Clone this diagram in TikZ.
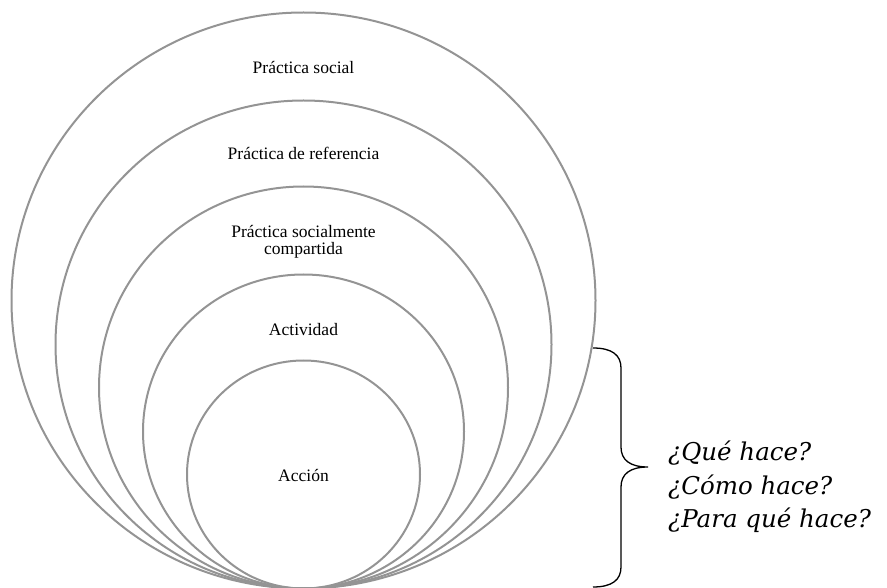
\documentclass[tikz,border=0pt]{standalone}
\usepackage{fontspec}
\setmainfont{Liberation Serif}
\newfontfamily\qfont{DejaVu Serif}
\begin{document}
\begin{tikzpicture}[x=1pt,y=-1pt,
  ring/.style={draw=black!42, line width=2pt},
  lbl/.style={anchor=base, font=\fontsize{17.5}{17}\selectfont, inner sep=0pt, align=center},
  qtext/.style={anchor=base west, font=\qfont\itshape\fontsize{24.5}{33.5}\selectfont, inner sep=0pt, align=left},
  bracestyle/.style={draw=black, line width=1.3pt}]
\useasboundingbox (0,0) rectangle (887,588);
\draw[ring] (303.5,300.5) ellipse [x radius=292pt, y radius=288pt];
\draw[ring] (303.5,344.5) ellipse [x radius=248pt, y radius=244pt];
\draw[ring] (303.5,387.5) ellipse [x radius=204.5pt, y radius=201pt];
\draw[ring] (303.5,431.5) ellipse [x radius=160.5pt, y radius=157pt];
\draw[ring] (303.5,474.5) ellipse [x radius=116.5pt, y radius=114pt];
\node[lbl] (ps) at (303.5,74) {Práctica social};
\node[lbl] (pr) at (303.5,160) {Práctica de referencia};
\node[lbl] (psc1) at (303.5,238) {Práctica socialmente};
\node[lbl] (psc2) at (303.5,255) {compartida};
\node[lbl] (act) at (303.5,335) {Actividad};
\node[lbl] (acc) at (303.5,481) {Acción};
\node[qtext] (q1) at (668,460) {¿Qué hace?};
\node[qtext] (q2) at (668,494) {¿Cómo hace?};
\node[qtext] (q3) at (668,527) {¿Para qué hace?};
\coordinate (btop) at (593,348);
\coordinate (btip) at (648,467);
\coordinate (bbot) at (593,587);
\draw[bracestyle] (btop) .. controls (612,348) and (621,355) .. (621,368) -- (621,447)
  .. controls (621,460) and (630,467) .. (btip)
  .. controls (630,467) and (621,474) .. (621,487) -- (621,567)
  .. controls (621,580) and (612,587) .. (bbot);
\end{tikzpicture}
\end{document}
